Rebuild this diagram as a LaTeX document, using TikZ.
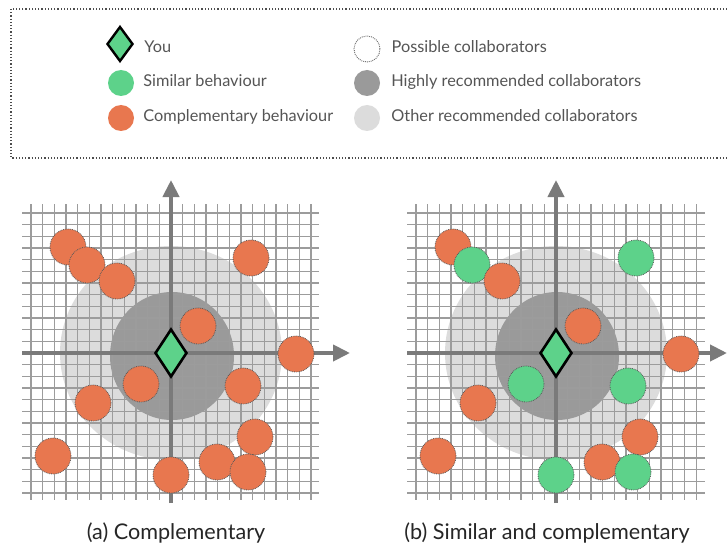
\documentclass[tikz,border=0pt]{standalone}
\usepackage{fontspec}
\setmainfont{Lato}
\usepackage{xcolor}
\usetikzlibrary{shapes.geometric, arrows.meta, positioning}
\definecolor{simgreen}{HTML}{5DD28A}
\definecolor{comporange}{HTML}{E8774F}
\definecolor{axisgray}{HTML}{7A7A7A}
\definecolor{gridgray}{HTML}{9C9C9C}
\definecolor{highgray}{HTML}{9A9A9A}
\definecolor{othergray}{HTML}{DCDCDC}
\definecolor{legendtext}{HTML}{555555}
\tikzset{
  you/.style={diamond, draw=black, line width=2.6pt, fill=simgreen,
              minimum width=32pt, minimum height=48pt, inner sep=0pt},
  simdot/.style={circle, fill=simgreen, draw=black!65, densely dotted,
                 line width=0.8pt, minimum size=36pt, inner sep=0pt},
  compdot/.style={circle, fill=comporange, draw=black!65, densely dotted,
                  line width=0.8pt, minimum size=36pt, inner sep=0pt},
  legdot/.style={circle, minimum size=26pt, inner sep=0pt},
  legtext/.style={font=\fontsize{16.3}{19}\selectfont, text=legendtext,
                  inner sep=0pt, text height=11pt, text depth=3pt},
  legendbox/.style={draw=black!70, dotted, line width=1.2pt},
  % --- panel parts ---
  gridline/.style={draw=gridgray, line width=1.1pt},
  axis/.style={draw=axisgray, line width=4pt, -{Triangle[length=17pt, width=16pt]}},
  caption/.style={font=\fontsize{21.6}{24}\selectfont, text=black!85},
}
\begin{document}
\begin{tikzpicture}[x=1pt, y=-1pt]
  \useasboundingbox[fill=white] (0,0) rectangle (727,548);
  \clip (0,0) rectangle (727,548);

  % legend
  \draw[legendbox] (11,9) rectangle (745,158);
  \node[you, minimum width=26pt, minimum height=35pt, line width=2.4pt] (kyou) at (120,44) {};
  \node[legtext, right=10pt of kyou, yshift=-5pt] (tyou) {You};
  \node[legdot, fill=simgreen] (ksim) at (121,83) {};
  \node[legtext, right=9pt of ksim] (tsim) {Similar behaviour};
  \node[legdot, fill=comporange] (kcomp) at (121,118) {};
  \node[legtext, right=9pt of kcomp] (tcomp) {Complementary behaviour};
  \node[legdot, draw=black!60, densely dotted, line width=0.9pt] (kposs) at (367,49) {};
  \node[legtext, right=11pt of kposs] (tposs) {Possible collaborators};
  \node[legdot, fill=highgray] (khigh) at (367,83) {};
  \node[legtext, right=11pt of khigh] (thigh) {Highly recommended collaborators};
  \node[legdot, fill=othergray] (kother) at (367,118) {};
  \node[legtext, right=11pt of kother] (tother) {Other recommended collaborators};

  % (a) complementary
  \begin{scope}[shift={(171,353)}]
    \fill[othergray] (0,0) ellipse [x radius=111pt, y radius=107pt];
    \fill[highgray] (1,3) ellipse [x radius=62pt, y radius=64pt];
    \foreach \k in {-12,...,12} {
      \draw[gridline] (\k*11.67,-149) -- (\k*11.67,147);
      \draw[gridline] (-149,\k*11.67) -- (148,\k*11.67);
    }
    \coordinate (aS) at (0,150);
    \coordinate (aN) at (0,-173);
    \coordinate (aW) at (-149,0);
    \coordinate (aE) at (179,0);
    \draw[axis] (aS) -- (aN);
    \draw[axis] (aW) -- (aE);
    \node[compdot] (a1) at (-103,-106) {};
    \node[compdot] (a2) at (-84,-88) {};
    \node[compdot] (a3) at (-54,-72) {};
    \node[compdot] (a4) at (80,-95) {};
    \node[compdot] (a5) at (27,-27) {};
    \node[compdot] (a6) at (125,1) {};
    \node[compdot] (a7) at (-30,31) {};
    \node[compdot] (a8) at (72,33) {};
    \node[compdot] (a9) at (-78,50) {};
    \node[compdot] (a10) at (84,84) {};
    \node[compdot] (a11) at (-118,103) {};
    \node[compdot] (a12) at (0,122) {};
    \node[compdot] (a13) at (46,109) {};
    \node[compdot] (a14) at (77,119) {};
    \node[you] (ayou) at (0,0) {};
  \end{scope}
  \node[caption] (capa) at (176,533) {(a) Complementary};

  % (b) similar and complementary
  \begin{scope}[shift={(556,353)}]
    \fill[othergray] (0,0) ellipse [x radius=111pt, y radius=107pt];
    \fill[highgray] (1,3) ellipse [x radius=62pt, y radius=64pt];
    \foreach \k in {-12,...,12} {
      \draw[gridline] (\k*11.67,-149) -- (\k*11.67,147);
      \draw[gridline] (-149,\k*11.67) -- (149,\k*11.67);
    }
    \coordinate (bS) at (0,150);
    \coordinate (bN) at (0,-173);
    \coordinate (bW) at (-149,0);
    \coordinate (bE) at (171,0);
    \draw[axis] (bS) -- (bN);
    \draw[axis] (bW) -- (bE);
    \node[compdot] (b1) at (-103,-106) {};
    \node[simdot] (b2) at (-84,-88) {};
    \node[compdot] (b3) at (-54,-72) {};
    \node[simdot] (b4) at (80,-95) {};
    \node[compdot] (b5) at (27,-27) {};
    \node[compdot] (b6) at (125,1) {};
    \node[simdot] (b7) at (-30,31) {};
    \node[simdot] (b8) at (72,33) {};
    \node[compdot] (b9) at (-78,50) {};
    \node[compdot] (b10) at (84,84) {};
    \node[compdot] (b11) at (-118,103) {};
    \node[simdot] (b12) at (0,122) {};
    \node[compdot] (b13) at (46,109) {};
    \node[simdot] (b14) at (77,119) {};
    \node[you] (byou) at (0,0) {};
  \end{scope}
  \node[caption] (capb) at (547,533) {(b) Similar and complementary};
\end{tikzpicture}
\end{document}
